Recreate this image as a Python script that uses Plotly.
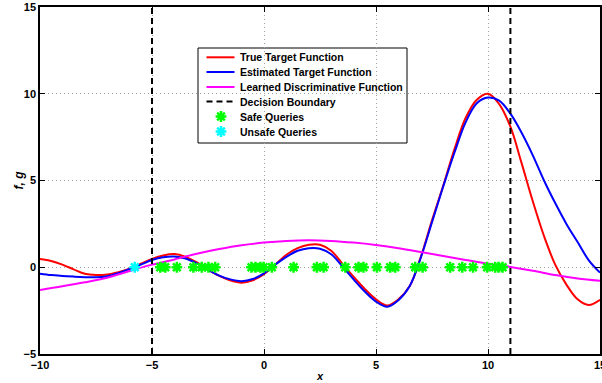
import plotly.graph_objects as go

# ---- data ----
x_grid = [-10, -9.5, -9, -8.5, -8, -7.5, -7, -6.5, -6, -5.5, -5, -4.5, -4, -3.5, -3, -2.5,
          -2, -1.5, -1, -0.5, 0, 0.5, 1, 1.5, 2, 2.5, 3, 3.5, 4, 4.5, 5, 5.5, 6, 6.5,
          7, 7.5, 8, 8.5, 9, 9.5, 10, 10.5, 11, 11.5, 12, 12.5, 13, 13.5, 14, 14.5, 15]

true_f = [0.48, 0.36, 0.15, -0.12, -0.38, -0.45, -0.42, -0.28, -0.08, 0.2, 0.48, 0.68, 0.76,
          0.6, 0.28, -0.14, -0.5, -0.76, -0.89, -0.75, -0.4, 0.15, 0.72, 1.1, 1.3, 1.3, 0.95,
          0.2, -0.55, -1.25, -1.85, -2.2, -1.85, -1.1, 0.6, 2.7, 4.7, 6.8, 8.6, 9.65, 10.0,
          9.4, 8.1, 6.0, 3.8, 1.8, 0.15, -1.0, -1.85, -2.18, -1.88]

est_f = [-0.37, -0.45, -0.5, -0.54, -0.57, -0.58, -0.52, -0.34, -0.1, 0.15, 0.42, 0.58, 0.62,
         0.5, 0.22, -0.14, -0.48, -0.7, -0.8, -0.68, -0.35, 0.15, 0.6, 0.95, 1.1, 1.07, 0.75,
         0.05, -0.7, -1.4, -1.98, -2.28, -1.9, -1.1, 0.55, 2.6, 4.65, 6.6, 8.35, 9.45, 9.78,
         9.6, 8.85, 7.75, 6.45, 5.0, 3.7, 2.5, 1.45, 0.4, -0.31]

x_g = [-10, -9, -8, -7, -6, -5, -4, -3, -2, -1, 0, 1, 2, 3, 4, 5, 6, 7, 8, 9, 10, 11, 12, 13, 14, 15]
disc_g = [-1.31, -1.1, -0.87, -0.6, -0.22, 0.15, 0.45, 0.78, 1.05, 1.27, 1.42, 1.52, 1.56, 1.52,
          1.42, 1.28, 1.1, 0.88, 0.65, 0.42, 0.2, 0.02, -0.2, -0.45, -0.65, -0.78]

boundaries = [-5, 11]

safe_x = [-4.63, -4.41, -3.89, -3.15, -2.78, -2.48, -2.18, -0.56, -0.38, -0.16, -0.02, 0.35,
          1.32, 2.36, 2.66, 3.63, 4.22, 4.44, 5.04, 5.63, 5.86, 6.75, 7.08, 8.31, 8.85, 9.33,
          9.96, 10.32, 10.47, 10.65]
unsafe_x = [-5.77]

x_ticks = [-10, -5, 0, 5, 10, 15]
y_ticks = [-5, 0, 5, 10, 15]

legend_labels = ["True Target Function", "Estimated Target Function",
                 "Learned Discriminative Function", "Decision Boundary",
                 "Safe Queries", "Unsafe Queries"]

FONT = "Liberation Sans"
RED, BLUE, MAG, GREEN, CYAN = "#ff0000", "#0000ff", "#ff00ff", "#00ff00", "#00ffff"

W, H = 602, 383
ML, MR, MT, MB = 40, 2, 7, 29
PW, PH = W - ML - MR, H - MT - MB


def px(xp):
    return (xp - ML) / PW


def py(yp):
    return (H - MB - yp) / PH


MK = dict(symbol="asterisk-open", size=9)

fig = go.Figure()
fig.add_trace(go.Scatter(x=x_grid, y=true_f, mode="lines", name=legend_labels[0],
                         line=dict(color=RED, width=2, shape="spline")))
fig.add_trace(go.Scatter(x=x_grid, y=est_f, mode="lines", name=legend_labels[1],
                         line=dict(color=BLUE, width=2, shape="spline")))
fig.add_trace(go.Scatter(x=x_g, y=disc_g, mode="lines", name=legend_labels[2],
                         line=dict(color=MAG, width=2, shape="spline")))
for b in boundaries:
    fig.add_trace(go.Scatter(x=[b, b], y=[y_ticks[0], y_ticks[-1]], mode="lines",
                             name=legend_labels[3],
                             line=dict(color="black", width=2, dash="6px,4px")))
fig.add_trace(go.Scatter(x=safe_x, y=[0] * len(safe_x), mode="markers", name=legend_labels[4],
                         marker=dict(color=GREEN, line=dict(color=GREEN, width=2.5), **MK)))
fig.add_trace(go.Scatter(x=unsafe_x, y=[0] * len(unsafe_x), mode="markers", name=legend_labels[5],
                         marker=dict(color=CYAN, line=dict(color=CYAN, width=2.5), **MK)))

# ---- hand-drawn legend (compact row spacing like the reference) ----
box_l, box_r, box_t, box_b = 198, 407, 48, 143
row_y = [57.3, 72.0, 87.0, 101.5, 116.5, 131.5]
seg_l, seg_r, txt_l, mk_x = 206.5, 234.5, 237.5, 221

shapes = [dict(type="rect", xref="paper", yref="paper", x0=px(box_l), x1=px(box_r),
               y0=py(box_b), y1=py(box_t), line=dict(color="black", width=1),
               fillcolor="white", layer="below")]
line_cols = [RED, BLUE, MAG, "black"]
for i, c in enumerate(line_cols):
    shapes.append(dict(type="line", xref="paper", yref="paper", x0=px(seg_l), x1=px(seg_r),
                       y0=py(row_y[i]), y1=py(row_y[i]), layer="above",
                       line=dict(color=c, width=2, dash="6px,4px" if i == 3 else "solid")))

annotations = []
for i, lab in enumerate(legend_labels):
    annotations.append(dict(text="<b>" + lab + "</b>", xref="paper", yref="paper",
                            x=px(txt_l), y=py(row_y[i]), xanchor="left", yanchor="middle",
                            showarrow=False, font=dict(family=FONT, size=10.5, color="black")))

fig.add_trace(go.Scatter(x=[px(mk_x), px(mk_x)], y=[py(row_y[4]), py(row_y[5])],
                         xaxis="x2", yaxis="y2", mode="markers", showlegend=False,
                         hoverinfo="skip",
                         marker=dict(color=[GREEN, CYAN], line=dict(color=[GREEN, CYAN], width=2.5),
                                     **MK)))

axis_common = dict(showline=True, linecolor="black", linewidth=1.5, mirror="ticks",
                   ticks="inside", ticklen=5, tickcolor="black", tickwidth=1,
                   showgrid=True, gridcolor="#a0a0a0", griddash="1px,3px", gridwidth=1,
                   zeroline=False, ticklabeloverflow="allow", automargin=False,
                   tickfont=dict(family=FONT, size=11, color="black", weight="bold"))

fig.update_xaxes(range=[x_ticks[0], x_ticks[-1]], tickvals=x_ticks, **axis_common)
fig.update_yaxes(range=[y_ticks[0], y_ticks[-1]], tickvals=y_ticks, **axis_common)

annotations += [
    dict(text="<b><i>x</i></b>", xref="paper", yref="paper", x=0.5, y=0,
         yshift=-14, yanchor="top", showarrow=False,
         font=dict(family=FONT, size=11, color="black")),
    dict(text="<b><i>f, g</i></b>", xref="paper", yref="paper", x=0, y=0.5,
         xshift=-22, xanchor="center", textangle=-90, showarrow=False,
         font=dict(family=FONT, size=12, color="black")),
]

fig.update_layout(
    width=W, height=H,
    margin=dict(l=ML, r=MR, t=MT, b=MB, autoexpand=False),
    paper_bgcolor="white", plot_bgcolor="white",
    showlegend=False,
    xaxis2=dict(overlaying="x", range=[0, 1], visible=False, fixedrange=True),
    yaxis2=dict(overlaying="y", range=[0, 1], visible=False, fixedrange=True),
    shapes=shapes,
    annotations=annotations,
)

fig.write_html("out.html")
